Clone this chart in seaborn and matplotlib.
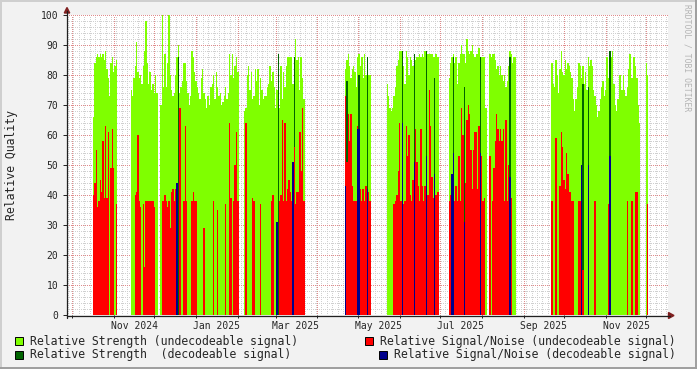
import matplotlib
matplotlib.use("Agg")
import numpy as np
import pandas as pd
import matplotlib.pyplot as plt
import seaborn as sns
from matplotlib.lines import Line2D
from matplotlib.patches import Rectangle, Polygon

# ---------------- data ----------------
BASE_DATE = "2024-11-01"
X_RANGE = ("2024-09-27 07:00", "2025-12-17 03:00")

segment_starts = ["2024-10-17", "2024-11-14", "2024-12-06", "2025-02-06", "2025-04-22",
                  "2025-05-23", "2025-07-08", "2025-08-07", "2025-09-22", "2025-12-01"]

# Relative Strength (undecodeable signal), one value per day, per active segment
strength_undec = [
    [66, 84, 86, 87, 86, 87, 86, 87, 85, 88, 82, 79, 73, 84, 86, 81, 83, 85],
    [75, 73, 79, 83, 91, 81, 79, 80, 77, 83, 88, 98, 84, 77, 81, 75, 77, 74, 80, 74],
    [70, 100, 76, 87, 76, 84, 100, 80, 75, 73, 74, 80, 86, 90, 74, 76, 78, 84, 84, 78,
     74, 70, 73, 88, 86, 81, 78, 76, 74, 72, 79, 82, 74, 72, 69, 73, 70, 76, 77, 80,
     72, 81, 76, 73, 74, 70, 71, 73, 76, 72, 74, 87, 80, 87, 79, 83, 86, 81],
    [68, 69, 80, 83, 75, 81, 72, 73, 82, 78, 82, 70, 79, 75, 72, 73, 73, 76, 77, 83,
     78, 81, 76, 69, 75, 87, 69, 83, 72, 81, 76, 83, 86, 86, 86, 86, 77, 86, 92, 85,
     86, 75, 86, 79, 72],
    [82, 85, 87, 83, 79, 82, 83, 81, 76, 86, 87, 83, 86, 79, 87, 80, 86, 80, 80],
    [77, 73, 69, 68, 69, 73, 76, 83, 85, 88, 88, 88, 83, 77, 88, 86, 80, 86, 85, 83,
     86, 85, 86, 86, 87, 86, 87, 86, 88, 87, 87, 87, 87, 87, 86, 86, 87, 86, 86],
    [79, 84, 86, 87, 84, 86, 77, 84, 87, 90, 87, 87, 84, 92, 88, 87, 88, 90, 87, 86,
     87, 87, 89, 86, 86, 86, 86, 69],
    [87, 86, 87, 87, 85, 82, 83, 80, 83, 80, 78, 80, 76, 78, 83, 88, 87, 84, 86, 86],
    [84, 77, 76, 85, 80, 74, 82, 88, 81, 80, 85, 82, 84, 83, 81, 79, 72, 68, 72, 76,
     84, 83, 79, 83, 77, 81, 75, 86, 83, 85, 83, 75, 73, 70, 66, 68, 72, 76, 78, 73,
     75, 86, 79, 86, 86, 88, 77, 70, 68, 72, 80, 80, 75, 80, 75, 73, 76, 82, 87, 79,
     79, 86, 83, 79, 70, 64],
    [84, 80],
]

# Relative Signal/Noise (undecodeable signal), same days
snr_undec = [
    [40, 44, 55, 36, 38, 45, 41, 58, 39, 63, 39, 61, 0, 49, 62, 49, 0, 37],
    [0, 0, 0, 40, 41, 60, 38, 36, 0, 37, 16, 38, 38, 38, 38, 38, 38, 36, 0, 0],
    [0, 38, 38, 40, 38, 36, 38, 29, 41, 42, 38, 42, 0, 0, 69, 0, 0, 38, 63, 38,
     0, 0, 0, 38, 41, 38, 38, 0, 0, 0, 0, 0, 29, 0, 0, 0, 0, 0, 0, 38,
     0, 0, 35, 0, 0, 0, 0, 0, 37, 0, 0, 64, 39, 0, 38, 50, 61, 38],
    [0, 64, 0, 0, 0, 0, 39, 38, 0, 0, 0, 0, 37, 0, 0, 0, 0, 0, 0, 0,
     38, 40, 0, 0, 0, 0, 38, 40, 65, 38, 64, 38, 42, 45, 41, 38, 0, 56, 37, 41,
     41, 61, 48, 69, 38],
    [73, 51, 67, 58, 67, 43, 38, 38, 38, 63, 60, 42, 38, 42, 38, 43, 41, 41, 38],
    [0, 0, 0, 0, 0, 37, 38, 40, 48, 64, 38, 38, 37, 38, 63, 53, 60, 40, 38, 45,
     38, 62, 51, 43, 38, 62, 43, 38, 43, 38, 40, 75, 63, 46, 39, 44, 40, 41, 41],
    [38, 40, 0, 0, 38, 43, 38, 53, 38, 69, 60, 0, 44, 65, 70, 67, 55, 42, 55, 61,
     61, 42, 63, 0, 53, 38, 39, 0],
    [53, 0, 38, 49, 58, 67, 62, 58, 62, 58, 62, 38, 65, 38, 50, 46, 39, 0, 0, 0],
    [38, 0, 0, 59, 0, 0, 43, 61, 56, 45, 42, 54, 47, 41, 41, 38, 38, 0, 0, 0,
     38, 38, 0, 15, 0, 0, 0, 0, 0, 0, 0, 0, 38, 0, 0, 0, 0, 0, 0, 0,
     0, 0, 37, 0, 0, 0, 0, 0, 0, 0, 0, 0, 0, 0, 0, 0, 38, 0, 0, 38,
     38, 0, 41, 41, 0, 0],
    [0, 37],
]

# Relative Strength (decodeable signal)
strength_dec_dates = ["2024-12-19", "2025-03-03", "2025-03-15", "2025-04-23", "2025-05-02",
                      "2025-05-08", "2025-06-03", "2025-06-12", "2025-06-21", "2025-06-27",
                      "2025-07-11", "2025-07-19", "2025-07-31", "2025-08-22", "2025-10-15",
                      "2025-10-19", "2025-11-04"]
strength_dec_values = [86, 87, 86, 78, 80, 86, 88, 87, 88, 79, 86, 76, 86, 86, 77, 76, 88]

# Relative Signal/Noise (decodeable signal)
snr_dec_dates = ["2024-12-18", "2025-03-02", "2025-03-14", "2025-04-22", "2025-05-01",
                 "2025-05-02", "2025-05-08", "2025-06-03", "2025-06-12", "2025-06-21",
                 "2025-06-27", "2025-07-10", "2025-07-11", "2025-07-19", "2025-07-31",
                 "2025-08-22", "2025-10-14", "2025-10-19", "2025-11-04"]
snr_dec_values = [44, 31, 51, 43, 62, 62, 42, 64, 51, 53, 47, 47, 54, 31, 54, 46, 50, 50, 53]

label_months = ["Nov 2024", "Jan 2025", "Mar 2025", "May 2025", "Jul 2025", "Sep 2025", "Nov 2025"]
y_ticks = [0, 10, 20, 30, 40, 50, 60, 70, 80, 90, 100]

legend_labels = ["Relative Strength (undecodeable signal)",
                 "Relative Strength  (decodeable signal)",
                 "Relative Signal/Noise (undecodeable signal)",
                 "Relative Signal/Noise (decodeable signal)"]
colors = {"s_undec": "#7FFF00", "s_dec": "#006400", "n_undec": "#FF0000", "n_dec": "#00008B"}

# ---------------- build per-day tables ----------------
base = pd.Timestamp(BASE_DATE)
def dnum(s):
    return (pd.Timestamp(s) - base) / pd.Timedelta(days=1)

first = int(dnum(segment_starts[0]))
last = int(dnum(segment_starts[-1])) + len(strength_undec[-1])
days = np.arange(first, last)
vals = {k: np.zeros(len(days)) for k in colors}
for start, gs, rs in zip(segment_starts, strength_undec, snr_undec):
    assert len(gs) == len(rs), (start, len(gs), len(rs))
    d0 = int(dnum(start)) - first
    vals["s_undec"][d0:d0 + len(gs)] = gs
    vals["n_undec"][d0:d0 + len(rs)] = rs
for s, v in zip(strength_dec_dates, strength_dec_values):
    vals["s_dec"][int(dnum(s)) - first] = v
for s, v in zip(snr_dec_dates, snr_dec_values):
    vals["n_dec"][int(dnum(s)) - first] = v

# ---------------- figure ----------------
sns.set_theme(style="white")
plt.rcParams["font.family"] = ["DejaVu Sans Mono"]
W, H = 697, 369
fig = plt.figure(figsize=(W / 100, H / 100), dpi=100)
fig.patch.set_facecolor("#F2F2F2")

def fx(x): return x / W
def fy(y): return 1 - y / H

ax = fig.add_axes([fx(67), fy(315), (668 - 67) / W, 300 / H])
ax.set_facecolor("white")

x0, x1 = dnum(X_RANGE[0]), dnum(X_RANGE[1])

# bars (drawn first, then raised above the grid)
order = ["s_undec", "s_dec", "n_undec", "n_dec"]
for i, k in enumerate(order):
    df = pd.DataFrame({"day": days, "value": vals[k]})
    n_before = len(ax.patches)
    sns.barplot(data=df, x="day", y="value", native_scale=True, width=1.03,
                color=colors[k], saturation=1, errorbar=None, linewidth=0,
                edgecolor="none", ax=ax)
    for p in ax.patches[n_before:]:
        p.set_zorder(3 + i * 0.1)
        p.set_alpha(1)

# grid (below bars), 1px dotted
gkw = dict(lw=0.72, ls=(0, (1, 1.6)), antialiased=False)
for v in range(2, 100, 2):
    if v % 10:
        ax.axhline(v, color="#D0D0D0", zorder=0.5, **gkw)
for v in range(10, 101, 10):
    ax.axhline(v, color="#E08C8C", zorder=0.6, **gkw)
month_starts = pd.date_range("2024-10-01", "2025-12-01", freq="MS")
minor_days = np.arange(np.ceil(x0), x1, 4)
for d in minor_days:
    ax.axvline(d, color="#D0D0D0", zorder=0.5, **gkw)
for m in month_starts:
    ax.axvline(dnum(m), color="#E08C8C", zorder=0.6, **gkw)

ax.set_xlim(x0, x1)
ax.set_ylim(0, 100)
ax.set_xlabel("")
ax.set_ylabel("")
for sp in ax.spines.values():
    sp.set_visible(False)

# ticks
ax.set_yticks(y_ticks)
ax.set_yticklabels([str(t) for t in y_ticks], fontsize=7)
ax.tick_params(axis="y", length=3, width=0.7, color="#202020", pad=3.2, direction="out", left=True)
lab_pos = [dnum(pd.to_datetime(l, format="%b %Y")) + 15 for l in label_months]
ax.set_xticks(lab_pos)
ax.set_xticklabels(label_months, fontsize=7)
ax.tick_params(axis="x", length=0, pad=4.2, bottom=True)
ax.set_xticks([dnum(m) for m in month_starts], minor=True)
ax.tick_params(axis="x", which="minor", length=2, width=0.7, color="#202020", direction="out", bottom=True)

# axis lines and arrows
axis_col = "#202020"
arrow_col = "#7F1F1F"
fig.add_artist(Line2D([fx(66.5), fx(670)], [fy(315.5), fy(315.5)], color=axis_col, lw=0.9, transform=fig.transFigure))
fig.add_artist(Line2D([fx(67), fx(67)], [fy(318), fy(11)], color=axis_col, lw=0.9, transform=fig.transFigure))
fig.add_artist(Polygon([(fx(64.3), fy(13)), (fx(69.7), fy(13)), (fx(67), fy(7.5))], closed=True,
                       color=arrow_col, transform=fig.transFigure))
fig.add_artist(Polygon([(fx(668.5), fy(312.5)), (fx(668.5), fy(318.5)), (fx(674), fy(315.5))], closed=True,
                       color=arrow_col, transform=fig.transFigure))

# y label
fig.text(fx(12), fy(165), "Relative Quality", rotation=90, ha="center", va="center", fontsize=8.3)

# watermark
fig.text(fx(686.5), fy(4), "RRDTOOL / TOBI OETIKER", rotation=270, ha="center", va="top",
         fontsize=5.8, color="#B4B4B4")

# legend
legend_items = [
    (15, 337, 30, legend_labels[0], colors["s_undec"]),
    (15, 350.5, 30, legend_labels[1], colors["s_dec"]),
    (365, 337, 380, legend_labels[2], colors["n_undec"]),
    (379, 350.5, 394, legend_labels[3], colors["n_dec"]),
]
for sx, sy, tx, text, c in legend_items:
    fig.add_artist(Rectangle((fx(sx), fy(sy + 8)), 8 / W, 8 / H, facecolor=c, edgecolor="black",
                             lw=0.7, transform=fig.transFigure))
    fig.text(fx(tx), fy(sy + 4.3), text, ha="left", va="center", fontsize=8.3)

# outer frame (3D shading)
fig.add_artist(Line2D([0, 1], [fy(0.5), fy(0.5)], color="#CFCFCF", lw=1.4, transform=fig.transFigure))
fig.add_artist(Line2D([fx(0.5), fx(0.5)], [0, 1], color="#CFCFCF", lw=1.4, transform=fig.transFigure))
fig.add_artist(Line2D([0, 1], [fy(368.2), fy(368.2)], color="#9E9E9E", lw=1.4, transform=fig.transFigure))
fig.add_artist(Line2D([fx(696.2), fx(696.2)], [0, 1], color="#9E9E9E", lw=1.4, transform=fig.transFigure))

fig.savefig("out.png", dpi=100, facecolor=fig.get_facecolor())
